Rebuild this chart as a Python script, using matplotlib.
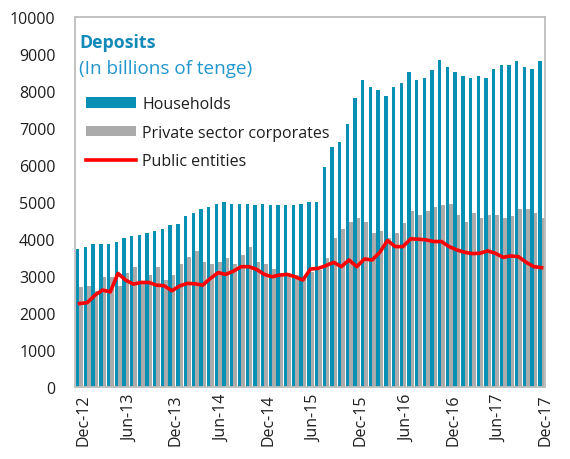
import matplotlib
matplotlib.use("Agg")
import matplotlib.pyplot as plt
import matplotlib.transforms as mtransforms
from matplotlib.patches import Patch
from matplotlib.lines import Line2D
import numpy as np
import pandas as pd

months = pd.date_range("2012-12-01", periods=61, freq="MS")

households = [3730, 3780, 3870, 3870, 3870, 3920, 4020, 4070, 4120, 4160,
              4220, 4270, 4370, 4410, 4610, 4710, 4810, 4855, 4955, 5010,
              4955, 4955, 4955, 4910, 4955, 4910, 4910, 4910, 4910, 4955,
              5000, 5000, 5950, 6495, 6630, 7120, 7815, 8305, 8115, 8015,
              7870, 8115, 8215, 8505, 8305, 8360, 8560, 8850, 8660, 8505,
              8405, 8360, 8405, 8360, 8605, 8705, 8705, 8805, 8660, 8605, 8805]

private_corporates = [2690, 2736, 2600, 2980, 2980, 2736, 3071, 3234, 2800, 3025,
                      3234, 2880, 3025, 3324, 3524, 3677, 3378, 3315, 3378, 3478,
                      3315, 3568, 3777, 3378, 3315, 3179, 3050, 3000, 3025, 2935,
                      3100, 3150, 3478, 4022, 4266, 4466, 4565, 4466, 4167, 4221,
                      4022, 4158, 4420, 4755, 4656, 4755, 4855, 4910, 4955, 4656,
                      4466, 4710, 4556, 4656, 4656, 4556, 4610, 4810, 4810, 4710, 4556]

public_entities = [2255, 2280, 2480, 2620, 2570, 3070, 2890, 2780, 2826, 2826,
                   2753, 2736, 2600, 2730, 2800, 2790, 2753, 2935, 3089, 3043,
                   3134, 3252, 3252, 3179, 3043, 2980, 3025, 3043, 2980, 2889,
                   3188, 3207, 3279, 3370, 3252, 3433, 3252, 3460, 3433, 3641,
                   3959, 3795, 3795, 4003, 3995, 3977, 3931, 3931, 3795, 3705,
                   3641, 3605, 3614, 3678, 3614, 3505, 3542, 3523, 3370, 3252, 3225]

tick_labels = ["Dec-12", "Jun-13", "Dec-13", "Jun-14", "Dec-14", "Jun-15",
               "Dec-15", "Jun-16", "Dec-16", "Jun-17", "Dec-17"]
y_ticks = [0, 1000, 2000, 3000, 4000, 5000, 6000, 7000, 8000, 9000, 10000]

TEAL = "#0790B3"
GRAY = "#ABABAB"
RED = "#FF0000"
BLUE_T = "#128AB9"
BLUE_S = "#2196CF"
TXT = "#1E1E1E"

plt.rcParams["font.family"] = ["Open Sans", "DejaVu Sans"]

fig = plt.figure(figsize=(5.7, 4.6), dpi=100)
ax = fig.add_axes([75 / 570, 1 - 388 / 460, 470 / 570, 370 / 460])

x = np.arange(len(months))
ax.bar(x - 0.22, households, width=0.44, color=TEAL, linewidth=0, zorder=2)
ax.bar(x + 0.23, private_corporates, width=0.46, color=GRAY, linewidth=0, zorder=2)
ax.plot(x, public_entities, color=RED, linewidth=2.6, zorder=3, solid_joinstyle="round")

ax.set_xlim(-0.58, 60.45)
ax.set_ylim(0, 10000)
ax.set_yticks(y_ticks)
ax.set_yticklabels([str(v) for v in y_ticks], fontsize=11.5, color=TXT)
ax.tick_params(axis="y", length=0, pad=14)

tick_pos = [months.get_loc(pd.Timestamp(pd.to_datetime(lbl, format="%b-%y"))) for lbl in tick_labels]
ax.set_xticks(tick_pos)
ax.set_xticklabels(tick_labels, rotation=90, fontsize=11.5, color=TXT)
ax.tick_params(axis="x", length=0, pad=5)
offset = mtransforms.ScaledTranslation(4 / 100, 0, fig.dpi_scale_trans)
for lab in ax.get_xticklabels():
    lab.set_transform(lab.get_transform() + offset)

for s in ax.spines.values():
    s.set_color("#BEBEBE")
    s.set_linewidth(1.3)

ax.text(4 / 470, 1 - (43 - 18) / 370, "Deposits", transform=ax.transAxes,
        fontsize=12.8, fontweight="bold", color=BLUE_T, va="center", ha="left")
ax.text(4 / 470, 1 - (69 - 18) / 370, "(In billions of tenge)", transform=ax.transAxes,
        fontsize=13.6, color=BLUE_S, va="center", ha="left")

handles = [Patch(facecolor=TEAL, edgecolor="none"),
           Patch(facecolor=GRAY, edgecolor="none"),
           Line2D([0], [0], color=RED, linewidth=2.6)]
labels = ["Households", "Private sector corporates", "Public entities"]
leg = ax.legend(handles, labels, loc="upper left", bbox_to_anchor=(8 / 470, 1 - (94 - 18) / 370),
                frameon=False, fontsize=11.5, handlelength=3.1, handleheight=0.6,
                handletextpad=0.4, labelspacing=0.78, borderaxespad=0.0, borderpad=0.2)
for t in leg.get_texts():
    t.set_color(TXT)

fig.savefig("out.png", dpi=100)
